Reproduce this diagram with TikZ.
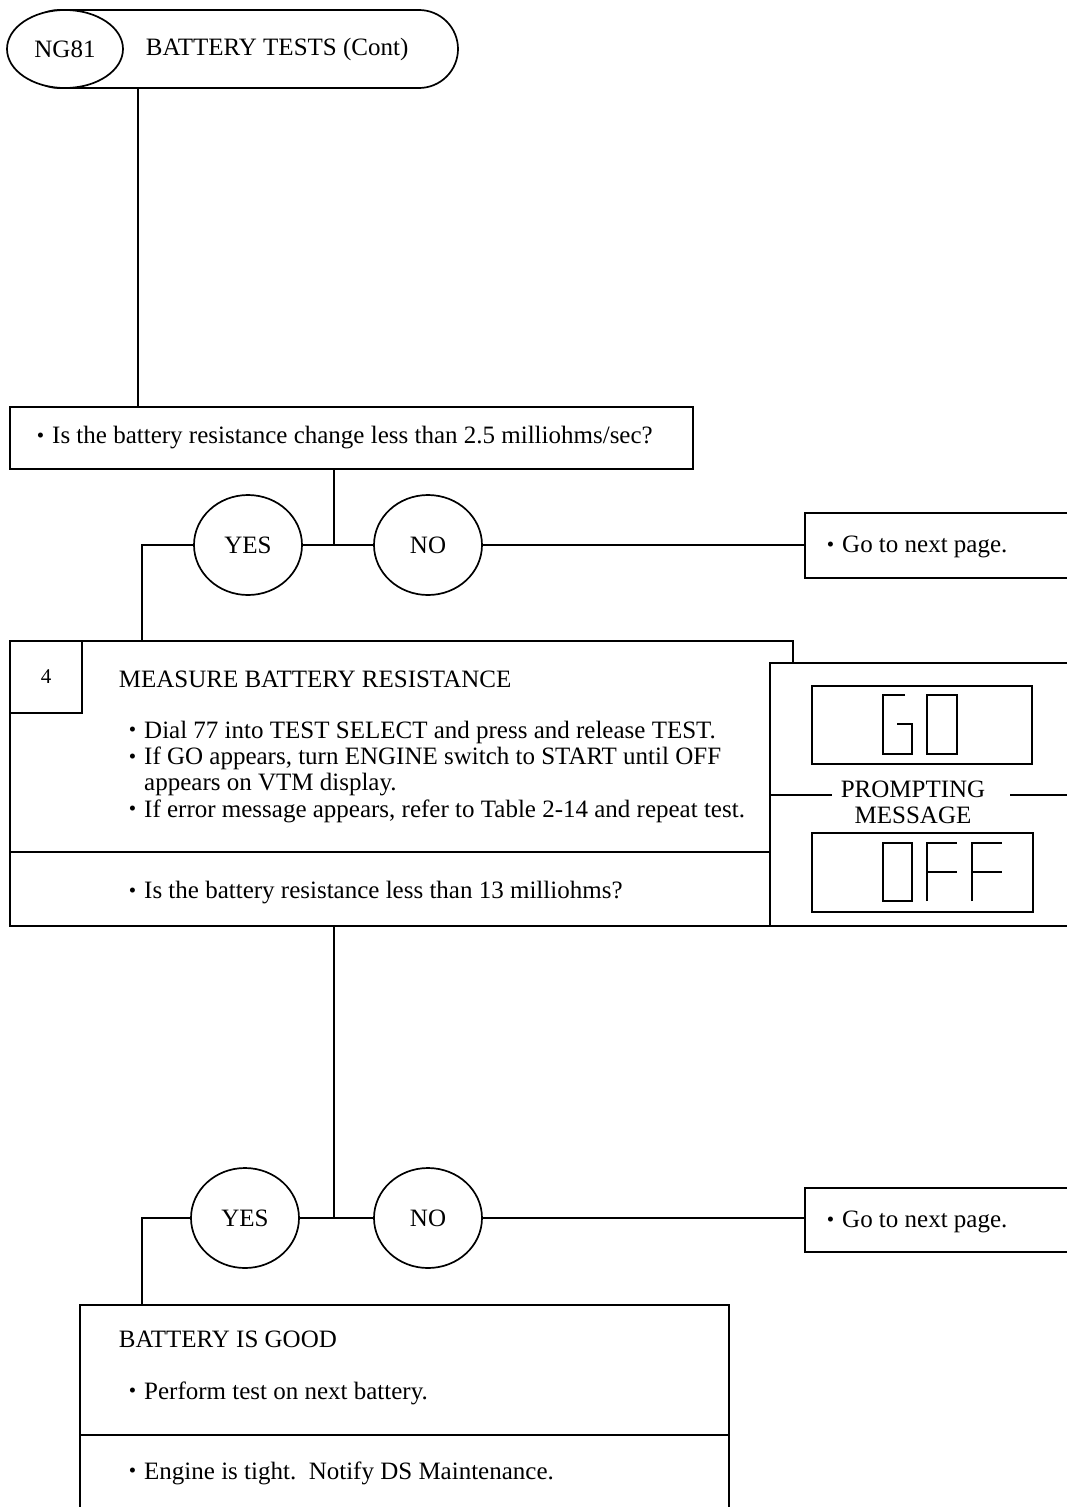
\documentclass[tikz,border=0pt]{standalone}
\usepackage{fontspec}
\setmainfont{Liberation Serif}
\usetikzlibrary{shapes.geometric}
\tikzset{
  every picture/.style={line width=1.7pt, x=1pt, y=-1pt},
  every node/.append style={font=\fontsize{25}{26.3}\selectfont},
  box/.style={draw, fill=white, inner sep=0pt},
  answer/.style={draw, fill=white, ellipse, inner sep=0pt, minimum width=108pt, minimum height=100pt},
  txt/.style={anchor=west, inner sep=0pt, align=left},
  seg/.style={line width=1.3pt},
}
\newcommand{\bdot}{\raisebox{1.5pt}{\fontsize{21}{22}\selectfont\textbullet}}
\newcommand{\bul}{\bdot\hspace{8pt}}

\begin{document}
\begin{tikzpicture}
  \useasboundingbox (0,0) rectangle (1067,1507);
  \clip (0,0) rectangle (1067,1507);
  \coordinate (trunk) at (138,0);
  \coordinate (mid) at (334,0);
  \coordinate (left) at (142,0);

  % header
  \node[box, rounded corners=39pt, minimum width=438pt, minimum height=78pt] (title) at (239,49) {};
  \node[box, ellipse, minimum width=116pt, minimum height=78pt] (ng) at (65,49) {NG81};
  \node[txt] (titletxt) at (145,49) {BATTERY TESTS (Cont)};

  % first question
  \node[box, minimum width=683pt, minimum height=62pt] (q1) at (351.5,438) {};
  \node[txt] (q1txt) at (36,438) {\bul Is the battery resistance change less than 2.5 milliohms/sec?};
  \node[answer] (yes1) at (248,545) {YES};
  \node[answer] (no1) at (428,545) {NO};
  \node[box, minimum width=275pt, minimum height=65pt] (go1) at (942.5,545.5) {};
  \node[txt] (go1txt) at (826,547) {\bul Go to next page.};

  \draw (title.south -| trunk) -- (q1.north -| trunk);
  \draw (q1.south -| mid) -- (yes1.east -| mid);
  \draw (yes1.east) -- (no1.west);
  \draw (no1.east) -- (no1.east -| go1.west);
  \draw (yes1.west) -| (left |- 0,641);

  % step 4
  \node[box, minimum width=783pt, minimum height=285pt] (meas) at (401.5,783.5) {};
  \node[box, minimum width=72pt, minimum height=72pt] (num) at (46,677) {\fontsize{21}{24}\selectfont 4};
  \node[txt] (meastxt) at (118,679) {MEASURE BATTERY RESISTANCE};
  \node[txt, anchor=north west] (steps) at (128,719) {%
    \begin{tabular}{@{}l@{\hspace{8pt}}l@{}}
      \bdot & Dial 77 into TEST SELECT and press and release TEST.\\
      \bdot & If GO appears, turn ENGINE switch to START until OFF\\
            & appears on VTM display.\\
      \bdot & If error message appears, refer to Table 2-14 and repeat test.
    \end{tabular}};
  \draw (meas.west |- 0,852) -- (770,852);
  \node[txt] (q2txt) at (128,893) {\bul Is the battery resistance less than 13 milliohms?};

  % prompting message
  \node[box, minimum width=310pt, minimum height=263pt] (prompt) at (925,794.5) {};
  \node[box, minimum width=220pt, minimum height=78pt] (godisp) at (922,725) {};
  \node[box, minimum width=221pt, minimum height=79pt] (offdisp) at (922.5,872.5) {};
  \node[align=center, inner sep=0pt] (pmsg) at (913,802) {PROMPTING\\MESSAGE};
  \draw (prompt.west |- 0,795) -- (832,795);
  \draw (1010,795) -- (prompt.east |- 0,795);
  % GO
  \draw[seg] (905,695) -- (883,695) -- (883,754) -- (912,754) -- (912,724) -- (897,724);
  \draw[seg] (927,695) rectangle (957,754);
  % OFF
  \draw[seg] (883,843) rectangle (912,901);
  \draw[seg] (927,901) -- (927,843) -- (957,843);
  \draw[seg] (927,872) -- (957,872);
  \draw[seg] (972,901) -- (972,843) -- (1002,843);
  \draw[seg] (972,872) -- (1002,872);

  % second question
  \node[answer] (yes2) at (245,1218) {YES};
  \node[answer] (no2) at (428,1218) {NO};
  \node[box, minimum width=275pt, minimum height=64pt] (go2) at (942.5,1220) {};
  \node[txt] (go2txt) at (826,1222) {\bul Go to next page.};
  \node[box, minimum width=649pt, minimum height=225pt] (good) at (404.5,1417.5) {};
  \node[txt] (goodtxt) at (118,1339) {BATTERY IS GOOD};
  \node[txt] (nexttxt) at (128,1393) {\bul Perform test on next battery.};
  \draw (good.west |- 0,1435) -- (good.east |- 0,1435);
  \node[txt] (tighttxt) at (128,1473) {\bul Engine is tight.\enspace Notify DS Maintenance.};

  \draw (meas.south -| mid) -- (yes2.east -| mid);
  \draw (yes2.east) -- (no2.west);
  \draw (no2.east) -- (no2.east -| go2.west);
  \draw (yes2.west) -| (good.north -| left);
\end{tikzpicture}
\end{document}
